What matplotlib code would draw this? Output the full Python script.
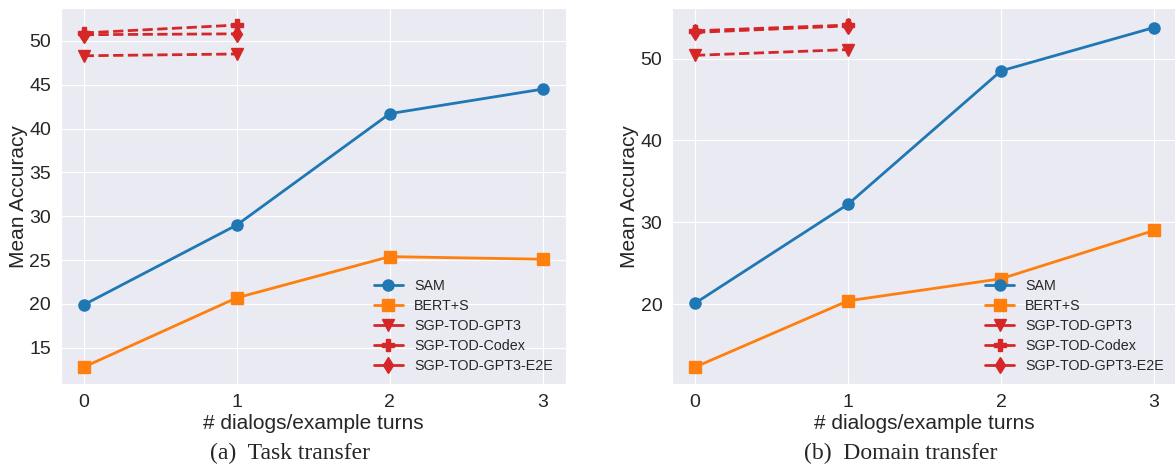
import matplotlib
matplotlib.use("Agg")
import matplotlib.pyplot as plt
import seaborn as sns
from matplotlib.lines import Line2D

sns.set_style("darkgrid")
plt.rcParams['font.family'] = ['Liberation Sans', 'DejaVu Sans']

turns = [0, 1, 2, 3]
few_turns = [0, 1]

# (a) task transfer
task_sam = [19.9, 29.0, 41.7, 44.5]
task_bert = [12.8, 20.7, 25.4, 25.1]
task_gpt3 = [48.3, 48.5]
task_codex = [50.9, 51.8]
task_e2e = [50.7, 50.8]

# (b) domain transfer
dom_sam = [20.1, 32.2, 48.5, 53.8]
dom_bert = [12.3, 20.4, 23.1, 29.0]
dom_gpt3 = [50.4, 51.1]
dom_codex = [53.4, 54.1]
dom_e2e = [53.2, 54.0]

captions = ["(a)  Task transfer", "(b)  Domain transfer"]
names = ["SAM", "BERT+S", "SGP-TOD-GPT3", "SGP-TOD-Codex", "SGP-TOD-GPT3-E2E"]

blue = '#1f77b4'
orange = '#ff7f0e'
red = '#d62728'

fig = plt.figure(figsize=(11.75, 4.68), dpi=100)
ax1 = fig.add_axes([0.0517, 0.179, 0.4298, 0.804])
ax2 = fig.add_axes([0.5719, 0.179, 0.4298, 0.804])

panels = [
    (ax1, task_sam, task_bert, task_gpt3, task_codex, task_e2e),
    (ax2, dom_sam, dom_bert, dom_gpt3, dom_codex, dom_e2e),
]

for i, (ax, sam, bert, gpt3, codex, e2e) in enumerate(panels):
    ax.plot(turns, sam, color=blue, marker='o', lw=2, ms=8)
    ax.plot(turns, bert, color=orange, marker='s', lw=2, ms=8)
    ax.plot(few_turns, gpt3, color=red, marker='v', lw=2, ms=8, ls='--')
    ax.plot(few_turns, codex, color=red, marker='P', lw=2, ms=8, ls='--')
    ax.plot(few_turns, e2e, color=red, marker='d', lw=2, ms=8, ls='--')
    ax.set_xticks(turns)
    ax.tick_params(labelsize=14)
    ax.set_xlabel("# dialogs/example turns", fontsize=15, labelpad=2)
    ax.set_ylabel("Mean Accuracy", fontsize=15, labelpad=1)

    handles = [
        Line2D([], [], color=blue, marker='o', lw=2, ms=8),
        Line2D([], [], color=orange, marker='s', lw=2, ms=8),
        Line2D([], [], color=red, marker='v', lw=2, ms=8),
        Line2D([], [], color=red, marker='P', lw=2, ms=8),
        Line2D([], [], color=red, marker='d', lw=2, ms=8),
    ]
    ax.legend(handles, names, loc='lower right', fontsize=10.3, frameon=False,
              bbox_to_anchor=(1.0, -0.005), labelspacing=0.42)
    ax.text(0.453, -0.185, captions[i], transform=ax.transAxes, ha='center', va='center',
            fontsize=17, family=['Liberation Serif', 'DejaVu Serif'])

ax1.set_yticks([15, 20, 25, 30, 35, 40, 45, 50])
ax2.set_yticks([20, 30, 40, 50])

fig.savefig("out.png", dpi=100)
